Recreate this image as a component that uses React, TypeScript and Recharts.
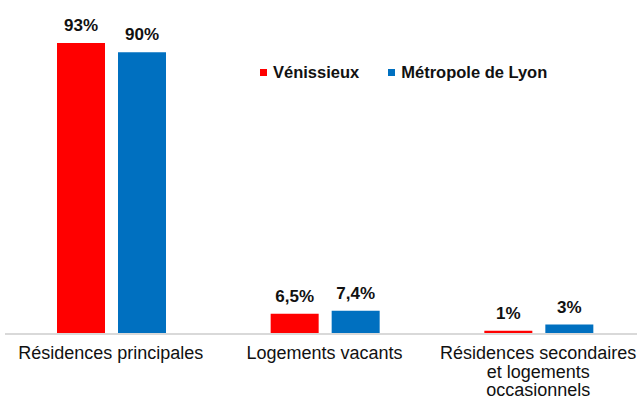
import React from "react";
import { BarChart, Bar, XAxis, YAxis, LabelList } from "recharts";

const categories = [
  "Résidences principales",
  "Logements vacants",
  "Résidences secondaires\net logements\noccasionnels",
];
const venissieux = [93, 6.5, 1];
const metropole = [90, 7.4, 3];

const seriesNames = ["Vénissieux", "Métropole de Lyon"];
const seriesColors = ["#ff0000", "#0070c0"];

const data = categories.map((c, i) => ({
  name: c,
  v: venissieux[i],
  m: metropole[i],
}));

const font = "'Liberation Sans', Arial, sans-serif";

function fmt(v: any) {
  return String(v).replace(".", ",") + "%";
}

function CategoryTick(props: any) {
  const { x, y, payload } = props;
  const lines = String(payload.value).split("\n");
  return (
    <text
      x={x - 1}
      y={y}
      textAnchor="middle"
      fill="#111"
      fontSize={18}
      fontFamily={font}
    >
      {lines.map((l, i) => (
        <tspan key={i} x={x - 1} dy={i === 0 ? 17 : 18.5}>
          {l}
        </tspan>
      ))}
    </text>
  );
}

function LegendBox() {
  return (
    <div style={{ position: "absolute", top: 63, left: 260, display: "flex", alignItems: "center", fontFamily: font, fontSize: 16.5, fontWeight: 700, color: "#111" }}>
      {seriesNames.map((n, i) => (
        <div key={n} style={{ display: "flex", alignItems: "center", marginRight: 29 }}>
          <span style={{ width: 7, height: 7, background: seriesColors[i], marginRight: 6, display: "inline-block" }} />
          {n}
        </div>
      ))}
    </div>
  );
}

export default function App() {
  return (
    <div style={{ position: "absolute", left: 0, top: 0, width: 637, height: 401, overflow: "hidden", background: "white" }}>
      <BarChart
        width={660}
        height={401}
        data={data}
        margin={{ top: 21, right: 14, left: 5, bottom: 7 }}
        barSize={48}
        barGap={13}
      >
        <XAxis
          dataKey="name"
          axisLine={{ stroke: "#d9d9d9", strokeWidth: 2 }}
          tickLine={false}
          height={60}
          interval={0}
          tick={<CategoryTick />}
        />
        <YAxis hide domain={[0, 100]} />
        <Bar dataKey="v" name={seriesNames[0]} fill={seriesColors[0]} isAnimationActive={false}>
          <LabelList dataKey="v" position="top" offset={12} formatter={fmt} fill="#111" fontSize={17} fontWeight={700} fontFamily={font} />
        </Bar>
        <Bar dataKey="m" name={seriesNames[1]} fill={seriesColors[1]} isAnimationActive={false}>
          <LabelList dataKey="m" position="top" offset={12} formatter={fmt} fill="#111" fontSize={17} fontWeight={700} fontFamily={font} />
        </Bar>
      </BarChart>
      <LegendBox />
    </div>
  );
}
